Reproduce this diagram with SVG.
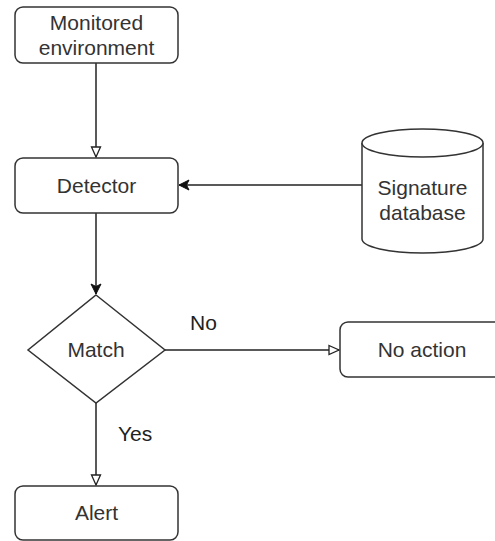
<svg xmlns="http://www.w3.org/2000/svg" width="495" height="541" viewBox="0 0 495 541">
<defs>
<style>
.box{fill:#fff;stroke:#333;stroke-width:1.5}
.t{font-family:"Liberation Sans",Arial,sans-serif;font-size:21px;fill:#333;text-anchor:middle}
.lbl{font-family:"Liberation Sans",Arial,sans-serif;font-size:21px;fill:#222}
.edge{fill:none;stroke:#222;stroke-width:1.5}
</style>
<marker id="open" viewBox="0 0 12 12" refX="11" refY="6" markerWidth="12" markerHeight="12" markerUnits="userSpaceOnUse" orient="auto">
<path d="M1,1.5 L11,6 L1,10.5 Z" fill="#fff" stroke="#222" stroke-width="1.3"/>
</marker>
<marker id="filled" viewBox="0 0 12 12" refX="11" refY="6" markerWidth="12" markerHeight="12" markerUnits="userSpaceOnUse" orient="auto">
<path d="M1,1 L11,6 L1,11 L3.5,6 Z" fill="#111" stroke="#111" stroke-width="1"/>
</marker>
</defs>
<rect width="495" height="541" fill="#fff"/>
<g id="connectors">
<path class="edge" d="M96,63 V157" marker-end="url(#open)"/>
<path class="edge" d="M362,185 H179" marker-end="url(#filled)"/>
<path class="edge" d="M96,213 V294" marker-end="url(#filled)"/>
<path class="edge" d="M165,350 H339" marker-end="url(#open)"/>
<path class="edge" d="M96,403 V485" marker-end="url(#open)"/>
<text class="lbl" x="190" y="330">No</text>
<text class="lbl" x="118" y="441">Yes</text>
</g>
<g id="monitored">
<rect class="box" x="15" y="7" width="163" height="56" rx="8"/>
<text class="t" x="96.5" y="30">Monitored</text>
<text class="t" x="96.5" y="55">environment</text>
</g>
<g id="detector">
<rect class="box" x="15" y="158" width="163" height="55" rx="8"/>
<text class="t" x="96.5" y="193">Detector</text>
</g>
<g id="database">
<path class="box" d="M362,143 A60.5,14 0 0 1 483,143 V239 A60.5,14 0 0 1 362,239 Z"/>
<path class="box" fill="none" d="M362,143 A60.5,14 0 0 0 483,143"/>
<text class="t" x="422.5" y="195">Signature</text>
<text class="t" x="422.5" y="220">database</text>
</g>
<g id="match">
<path class="box" d="M96,295 L165,350 L96,403 L28,350 Z"/>
<text class="t" x="96" y="357">Match</text>
</g>
<g id="noaction">
<rect class="box" x="340" y="322" width="170" height="55" rx="8"/>
<text class="t" x="422" y="357">No action</text>
</g>
<g id="alert">
<rect class="box" x="15" y="486" width="163" height="54" rx="8"/>
<text class="t" x="96.5" y="520">Alert</text>
</g>
</svg>
